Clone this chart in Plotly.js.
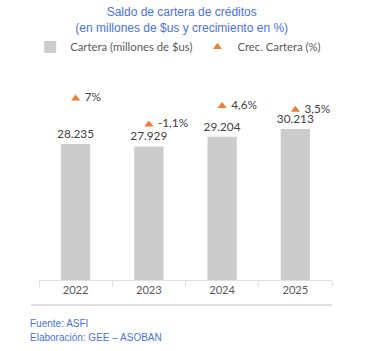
<!DOCTYPE html>
<html>
<head>
<meta charset="utf-8">
<script src="https://cdn.plot.ly/plotly-3.0.1.min.js"></script>
<style>html,body{margin:0;padding:0;background:#fff;}#chart{width:389px;height:351px;}</style>
</head>
<body>
<div id="chart"></div>
<script>
const years = ['2022', '2023', '2024', '2025'];
const cartera = [28235, 27929, 29204, 30213];
const crecimiento = [7, -1.1, 4.6, 3.5];
const seriesNames = ['Cartera (millones de $us)', 'Crec. Cartera (%)'];
const titleLines = ['Saldo de cartera de créditos', '(en millones de $us y crecimiento en %)'];
const footerLines = ['Fuente: ASFI', 'Elaboración: GEE – ASOBAN'];

const textColor = '#404040';
const blue = '#4a72d8';
const fs = 11.8;

const traces = [
  {
    type: 'bar', x: years, y: cartera, name: seriesNames[0],
    marker: {color: '#cccccc'}, width: 0.4,
    texttemplate: '%{y:,.0f}', textposition: 'outside', constraintext: 'none',
    textfont: {family: 'Lato', size: fs, color: textColor},
    cliponaxis: false, hoverinfo: 'skip'
  },
  {
    type: 'scatter', mode: 'markers+text', x: years, y: crecimiento, yaxis: 'y2',
    name: seriesNames[1],
    marker: {symbol: 'triangle-up', size: 8, color: '#ed7d31'},
    texttemplate: ' %{y:.1~f}%', textposition: 'middle right',
    textfont: {family: 'Lato', size: fs, color: textColor},
    cliponaxis: false, hoverinfo: 'skip'
  }
];

const layout = {
  width: 389, height: 351,
  margin: {l: 39, r: 57, t: 83, b: 71, autoexpand: false},
  paper_bgcolor: '#ffffff', plot_bgcolor: '#ffffff',
  separators: ',.',
  showlegend: true,
  legend: {
    orientation: 'h', x: -0.03, xanchor: 'left',
    y: 1.183, yanchor: 'middle',
    font: {family: 'Lato', size: 11.3, color: '#595959'},
    itemwidth: 30, tracegroupgap: 0
  },
  title: {
    text: titleLines.join('<br>'),
    font: {family: 'Liberation Sans', size: 12, color: blue},
    x: 0.487, xref: 'paper', xanchor: 'center',
    y: 1 - 16/351, yref: 'container', yanchor: 'middle'
  },
  xaxis: {
    type: 'category', showgrid: false, zeroline: false,
    showline: true, linecolor: '#e0e0e0', linewidth: 1,
    ticks: 'outside', tickson: 'boundaries', ticklen: 6, tickcolor: '#e0e0e0',
    tickfont: {family: 'Lato', size: 11.2, color: '#595959'},
    fixedrange: true
  },
  yaxis: {range: [10300, 36300], visible: false, fixedrange: true},
  yaxis2: {range: [-49.6, 11.8], overlaying: 'y', side: 'right', visible: false, fixedrange: true},
  bargap: 0.6,
  shapes: [
    {type: 'line', xref: 'paper', yref: 'paper', x0: -0.027, x1: 1.0, y0: -0.127, y1: -0.127,
     line: {color: '#c0c0c0', width: 1}}
  ],
  annotations: footerLines.map((t, i) => ({
    text: t, xref: 'paper', yref: 'paper', x: -0.0386, xanchor: 'left',
    y: -0.223 - i * 0.071, yanchor: 'middle', showarrow: false,
    font: {family: 'Liberation Sans', size: 10, color: blue}
  }))
};

Plotly.newPlot('chart', traces, layout, {displayModeBar: false, staticPlot: true});
</script>
</body>
</html>
